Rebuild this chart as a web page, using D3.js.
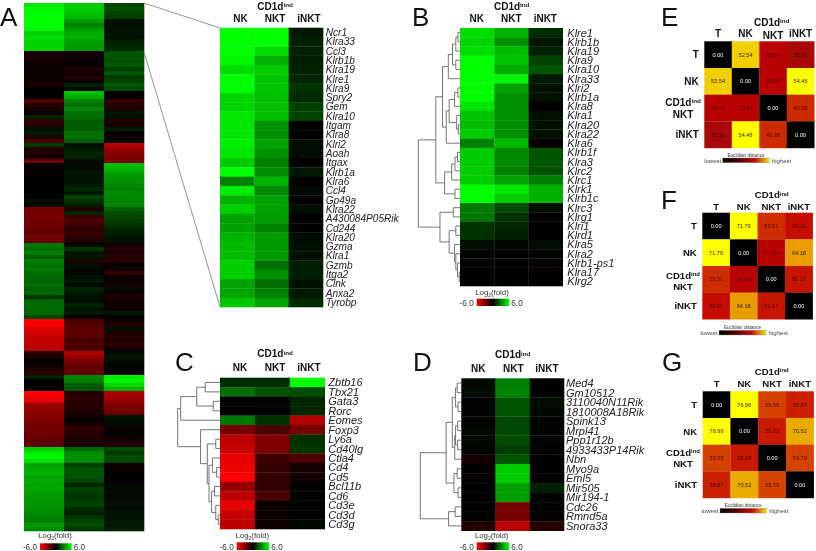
<!DOCTYPE html>
<html><head><meta charset="utf-8">
<script src="https://cdn.jsdelivr.net/npm/d3@7"></script>
<style>
html,body{margin:0;padding:0;background:#fff}
svg{display:block;font-family:"Liberation Sans",Arial,sans-serif;filter:blur(0.35px)}
</style></head><body><svg id="c" width="816" height="551"></svg>
<script>
// ---------- DATA ----------
const groups = ["NK","NKT","iNKT"];
// Panel A: overview, one value per cluster row
const overviewNK = [5.4,5.8,6,6,6,6,5.8,4.8,5.2,5,5,5,
 -.5,-.7,-.5,-.3,-.2,-.2,-.2,-.4,-.6,-.1, 0,-.1,
 -1.8,-1,-.5,-.3,.8,-1.2,-.9,.4,.6,-.7,-1.6, 1.4,-.8,-.8,-.5,-2.6,
 0,-.2,-.1,-.1,0,0,0,.1,.1,.3,.1, -2.8,-2.7,-2.8,-2.6,-2.7,-2.5,-2.3,-2.6,-2.4,
 2.8,2.6,3,2.2,3,2.6,2.8,2.6,2.5,2.3,2.6,2.3,2.5,1.3,2.4,2.6,2.5,2.4,1.6,
 -6,-5.8,-5.2,-5,-4.6,-4.6,-4.4,-4.2, -1,-.6,0,-.2,-.7,-1, .8,-.1,.1,0, -6,-5.6,-5.2,
 -3.6,-3.4,-3.2,-3.2,-2.9,-2.7,-2.7,-2.6,-2.4,-2.3,-2.3, 4.8,5.6,5.8,5.2,
 3.8,4,4.2,3.8,4,3.8,4,3.7,3.7,3.5,3.5,3.4,3.3,3.1,3,3.6,3.2];
const overviewNKT = [4.8,4.8,4.6,4.4,3.6,3,3.6,4,4.2,3.8,3.6,3.6,
 -.3,-.4,-.2,-.2,-.8,-.3,-.9,-.3,.8,.3, 4.6,4,
 3,2.6,3.2,2.6,2.6,2.2,2.2,2.2,2.6,2.6,2.2, .4,.6,.9,.8,.3,
 .2,.3,.5,.4,.5,.6,1,.5,1.6,1.2,.8, -.8,.9,-1.4,-1.8,-1.4,-1.1,-1.3,-1,-.7,
 .2,1.2,.5,.6,-.6,.4,.2,.2,.3,.6,.2,.9,.6,.4,.3,.9,.5,.6,-.4,
 -1.8,-2,-2.2,-2.2,-2,-1.6,-1.9,-1.8, -4,-3.4,-3,-2.4,-2.2,-2.4, 3.2,3,2.2,2, -.8,-1,-.9,
 -1,-.8,-.7,-.3,-.2,-.6,-1.1,-.9,-.8,-.7,-.5, 2.4,3.2,3.4,3.2,
 1.4,2,2,1.9,1.6,.9,1.6,1.4,1.3,1.4,1.5,1,.8,1.2,1.6,1.8,1.3];
const overviewINKT = [1.6,1.8,1.6,1.4,.4,.3,.4,.5,.4,.7,.9,1,
 2,2,1.8,2.1,1.5,2,1.4,1.6,2,1.7, 0,-.1,
 -1.2,-.9,-.6,.5,.3,-.8,-.5,.7,-.2,-.4,-.3, -4.2,-3.6,-3.2,-3,-2.8,
 4.4,4.2,3.8,3.5,3.4,3.2,3,3.2,3.2,3,3.1, 2.3,1.8,1.6,1.4,1.2,.9,.7,.5,.4,
 -.5,-.8,-.6,-1,-.9,-.2,-.4,-1.1,-.3,-.3,-.5,.3,-.4,-.7,-.4,-.5,-.3,.6,-.1,
 -.4,-.7,.4,-.6,-.9,-.7,-1,-.5, .3,.5,.3,.1,.2,-.2, 5.6,5.8,5,4.2, -4,-3.8,-3.4,
 -3,-2.8,-2.4,.5,.3,.2,-.3,.1,-.2,-.6,-.7, 1.8,1.4,1.8,1.6,
 -.3,-.2,.1,0,0,.2,.2,.3,.2,.3,.4,.3,.5,.4,.6,.5,.7];

// Panel A inset
const insetGenes = ["Ncr1","Klra33","Ccl3","Klrb1b","Klra19","Klre1","Klra9","Spry2","Gem","Klra10","Itgam","Klra8","Klri2","Aoah","Itgax","Klrb1a","Klra6","Ccl4","Gp49a","Klra22","A430084P05Rik","Cd244","Klra20","Gzma","Klra1","Gzmb","Itga2","Clnk","Anxa2","Tyrobp"];
const insetNK = [6,6,6,5.8,5.2,6,6,5,5,5.4,5.4,5.4,5.6,5.4,4.8,6,3,5.6,4.2,4.9,3.8,3.8,4.2,4.4,4.4,4.9,4.9,3.8,3.9,4.7];
const insetNKT = [6,6,5.2,4.2,4.8,4.6,4.6,4.5,4.5,4.5,3.4,3.4,3.8,3.4,3,3.3,4.2,3.2,3.8,3.8,3.7,3.1,3.7,3.6,3.7,2.6,3.4,2.6,3,3.8];
const insetINKT = [.6,.8,.8,.7,.8,.9,1.2,1,1.5,1.6,0,0,.3,.3,-.1,.6,-.1,.2,0,.3,0,0,.3,.4,.4,.7,.7,.4,.6,1];

// Panel B
const klrGenes = ["Klre1","Klrb1b","Klra19","Klra9","Klra10","Klra33","Klri2","Klrb1a","Klra8","Klra1","Klra20","Klra22","Klra6","Klrb1f","Klra3","Klrc2","Klrc1","Klrk1","Klrb1c","Klrc3","Klrg1","Klri1","Klrd1","Klra5","Klra2","Klrb1-ps1","Klra17","Klrg2"];
const klrNK = [5.2,5,5.2,6,6,6,6,6,5.4,4.6,4.4,4.8,3,4.8,4.8,4.8,4.8,6,6,2.8,2.8,1.2,1.2,.3,.1,.1,-.1,-.1];
const klrNKT = [4.2,3.4,4.4,4.6,4,5.8,3.8,3.4,3.4,3.4,3.4,3.4,4.4,3.2,3.2,3.1,3.8,5.4,4.8,1.8,1.2,.9,.7,.2,0,0,0,0];
const klrINKT = [1,.5,.8,1.6,2,.6,.4,.4,0,.4,.4,.4,-.1,2,2,1.9,3,4.2,4.2,.3,0,0,0,.3,.1,-.1,-.1,-.1];
const klrTree = [1,[.58,[.42,[.28,[.18,[.1,[.05,0,1],2],[.1,3,4]],5],[.33,[.26,[.13,[.05,6,7],8],[.08,9,[.04,10,11]]],12]],[.37,[.2,[.12,[.06,13,14],15],16],[.12,17,18]]],[.48,[.16,19,20],[.26,[.1,21,22],[.13,23,[.1,24,[.06,25,[.02,26,27]]]]]]];

// Panel C
const lineageGenes = ["Zbtb16","Tbx21","Gata3","Rorc","Eomes","Foxp3","Ly6a","Cd40lg","Ctla4","Cd4","Cd5","Bcl11b","Cd6","Cd3e","Cd3d","Cd3g"];
const lineageNK = [1,2.6,0,0,2.8,-2.8,-4.4,-4.6,-5.4,-5.6,-6,-3.5,-4.4,-5.4,-4.6,-4.5];
const lineageNKT = [1,1.9,.1,0,1.2,-1.8,-3,-3,-1.4,-1.2,-1.2,-1.2,-1.8,-.3,-.3,-.3];
const lineageINKT = [6,1.8,.9,.9,-4.2,-2.8,1.1,1.3,-1.8,-.5,-.5,0,.1,.1,0,.2];
const lineageTree = [1,[.93,[.55,[.35,0,1],[.16,2,3]],4],[.46,5,[.3,[.1,6,7],[.26,[.18,8,[.08,9,10]],[.2,[.13,11,12],[.1,13,[.04,14,15]]]]]]];

// Panel D
const nktGenes = ["Med4","Gm10512","3110040N11Rik","1810008A18Rik","Spink13","Mrpl41","Ppp1r12b","4933433P14Rik","Nbn","Myo9a","Eml5","Mir505","Mir194-1","Cdc26","Rmnd5a","Snora33"];
const nktNK = [.2,.3,.1,.1,.1,.2,.2,.1,-.5,0,-.1,0,0,0,.1,-.7];
const nktNKT = [3,3.1,2,2,1.7,1.7,1.8,1.4,2,4.8,4.8,3.7,3.7,-2.8,-2.8,-4.4];
const nktINKT = [0,0,.3,.2,.1,.1,.1,0,0,0,0,.7,.1,.1,-.1,-.8];
const nktTree = [1,[.37,[.22,[.14,[.1,0,1],[.08,2,3]],[.16,[.14,[.09,4,5],[.09,6,7]],8]],[.18,[.1,9,10],[.08,11,12]]],[.31,[.15,13,14],15]];

// Panels E, F, G: distances
const cellNames = ["T","NK","NKT","iNKT"];
const distE = [[0,52.54,35.64,32.30],[52.54,0,35.95,54.46],[35.64,35.95,0,40.38],[32.30,54.46,40.38,0]];
const distF = [[0,71.79,53.51,50.11],[71.79,0,47.04,64.18],[53.51,47.04,0,51.17],[50.11,64.18,51.17,0]];
const distG = [[0,76.96,59.55,55.87],[76.96,0,55.23,70.52],[59.55,55.23,0,59.79],[55.87,70.52,59.79,0]];

// ---------- DRAW ----------
const svg = d3.select("#c");
const logColor = d3.scaleLinear().domain([-6,0,6]).range(["#ff0000","#000000","#00ff00"]).clamp(true);
const hotStops = [0,.3,.59,.68,.75,.9,.96,1];
const hotColor = d3.scaleLinear().domain(hotStops).range(["#000000","#400000","#a80808","#c00000","#d03000","#e8a000","#f0c800","#ffff00"]);
let gid = 0;
function gradient(stops){
  const id = "g"+(gid++);
  const g = svg.append("defs").append("linearGradient").attr("id",id);
  g.selectAll("stop").data(stops).join("stop")
    .attr("offset",d=>d[0]).attr("stop-color",d=>d[1]);
  return "url(#"+id+")";
}
function letter(t,x,y){
  svg.append("text").text(t).attr("x",x).attr("y",y).attr("font-size",26).attr("fill","#111");
}
function cd1d(x,y,size){
  const t = svg.append("text").attr("x",x).attr("y",y).attr("text-anchor","middle")
    .attr("font-size",size).attr("font-weight","bold").attr("fill","#111");
  t.append("tspan").text("CD1d");
  t.append("tspan").text("ind").attr("font-size",size*.62).attr("dy",-size*.28);
}
function heat(o){
  const x = d3.scaleBand().domain(groups).range(o.xr);
  const y = d3.scaleBand().domain(d3.range(o.cols[0].length)).range(o.yr);
  const rows = o.cols.flatMap((c,j)=>c.map((v,i)=>({g:groups[j],i,v})));
  svg.append("g").style("filter","blur(.4px)").selectAll("rect").data(rows).join("rect")
    .attr("x",d=>x(d.g)).attr("y",d=>y(d.i))
    .attr("width",x.bandwidth()+.3).attr("height",y.bandwidth()+.3)
    .attr("fill",d=>logColor(d.v));
  if(o.genes){
    svg.append("g").selectAll("text").data(o.genes).join("text")
      .text(d=>d).attr("x",o.labelX).attr("y",(d,i)=>y(i)+y.bandwidth()/2)
      .attr("dy",".36em").attr("font-size",o.labelSize).attr("font-style","italic").attr("fill","#222");
  }
  if(o.tree){
    const hx = d3.scaleLinear().domain([0,1]).range([o.xr[0],o.rootX]);
    const segs = [];
    (function walk(n){
      if(typeof n==="number") return {h:0,cy:y(n)+y.bandwidth()/2};
      const a = walk(n[1]), b = walk(n[2]);
      segs.push([hx(n[0]),a.cy,hx(n[0]),b.cy],[hx(n[0]),a.cy,hx(a.h),a.cy],[hx(n[0]),b.cy,hx(b.h),b.cy]);
      return {h:n[0],cy:(a.cy+b.cy)/2};
    })(o.tree);
    svg.append("g").selectAll("line").data(segs).join("line")
      .attr("x1",d=>d[0]).attr("y1",d=>d[1]).attr("x2",d=>d[2]).attr("y2",d=>d[3])
      .attr("stroke","#666").attr("stroke-width",.9);
  }
  if(o.head){
    svg.append("g").selectAll("text").data(groups).join("text").text(d=>d)
      .attr("x",(d,i)=>o.head.x[i]).attr("y",o.head.y).attr("text-anchor","middle")
      .attr("font-size",10).attr("font-weight","bold").attr("fill","#111");
    cd1d(o.head.cx,o.head.cy,10);
  }
}
const logGrad = gradient([[0,"#ff0000"],[.5,"#000000"],[1,"#00ff00"]]);
function logLegend(o){
  const t = svg.append("text").attr("x",o.cx).attr("y",o.ty).attr("text-anchor","middle").attr("font-size",7.8).attr("fill","#333");
  t.append("tspan").text("Log");
  t.append("tspan").text("2").attr("font-size",5).attr("dy",1.5);
  t.append("tspan").text("(fold)").attr("dy",-1.5);
  svg.append("text").text("-6.0").attr("x",o.bx[0]-3).attr("y",o.by[1]-.5).attr("text-anchor","end").attr("font-size",8.2).attr("fill","#333");
  svg.append("text").text("6.0").attr("x",o.bx[1]+2).attr("y",o.by[1]-.5).attr("font-size",8.2).attr("fill","#333");
  svg.append("rect").attr("x",o.bx[0]).attr("y",o.by[0]).attr("width",o.bx[1]-o.bx[0]).attr("height",o.by[1]-o.by[0]).attr("fill",logGrad);
}
const hotGrad = gradient(hotStops.map(s=>[s,hotColor(s)]));
function matrix(o){
  const x = d3.scaleBand().domain(d3.range(4)).range(o.xr);
  const y = d3.scaleBand().domain(d3.range(4)).range(o.yr);
  const max = d3.max(o.m.flat());
  const cells = o.m.flatMap((r,i)=>r.map((v,j)=>({i,j,v})));
  const g = svg.append("g");
  g.selectAll("rect").data(cells).join("rect")
    .attr("x",d=>x(d.j)).attr("y",d=>y(d.i)).attr("width",x.bandwidth()+.2).attr("height",y.bandwidth()+.2)
    .attr("fill",d=>hotColor(d.v/max));
  g.selectAll("text").data(cells).join("text").text(d=>d.v.toFixed(2))
    .attr("x",d=>x(d.j)+x.bandwidth()/2).attr("y",d=>y(d.i)+y.bandwidth()/2).attr("dy",".36em")
    .attr("text-anchor","middle").attr("font-size",5.6)
    .attr("fill",d=>d.v===0?"#fff":(d.v/max>.85?"#332200":"#500000"));
  svg.append("g").selectAll("text").data(cellNames).join("text").text(d=>d)
    .attr("x",(d,i)=>x(i)+x.bandwidth()/2).attr("y",(d,i)=>o.headY+(i===2?o.nktShift:0))
    .attr("text-anchor","middle").attr("font-size",o.fs).attr("font-weight","bold").attr("fill","#111");
  cd1d(o.cdX,o.cdY,o.fs);
  const rowX = o.xr[0]-5.5;
  svg.append("g").selectAll("text").data([0,1,3]).join("text").text(i=>cellNames[i])
    .attr("x",rowX).attr("y",i=>y(i)+y.bandwidth()/2).attr("dy",".36em")
    .attr("text-anchor","end").attr("font-size",o.fs).attr("font-weight","bold").attr("fill","#111");
  cd1d(o.rowCx,o.rowY[0],o.fs);
  svg.append("text").text("NKT").attr("x",o.rowCx).attr("y",o.rowY[1]).attr("text-anchor","middle")
    .attr("font-size",o.fs).attr("font-weight","bold").attr("fill","#111");
  svg.append("rect").attr("x",o.lx[0]).attr("y",o.ly[0]).attr("width",o.lx[1]-o.lx[0]).attr("height",o.ly[1]-o.ly[0])
    .attr("fill",hotGrad).attr("stroke","#888").attr("stroke-width",.4);
  svg.append("text").text("Euclidian distance").attr("x",(o.lx[0]+o.lx[1])/2).attr("y",o.ly[0]-1.5)
    .attr("text-anchor","middle").attr("font-size",4.6).attr("fill","#333");
  svg.append("text").text("lowest").attr("x",o.lx[0]-1.5).attr("y",o.ly[1]).attr("text-anchor","end").attr("font-size",6).attr("fill","#444");
  svg.append("text").text("highest").attr("x",o.lx[1]+2.5).attr("y",o.ly[1]).attr("font-size",6).attr("fill","#444");
}

// Panel A
letter("A",0,26);
heat({cols:[overviewNK,overviewNKT,overviewINKT],xr:[24,144],yr:[3,531]});
logLegend({cx:55,ty:538,bx:[40,71.7],by:[543.3,550]});
// connector lines between overview and inset
const connectors = [[144,3,220,28],[144,52,220,307]];
svg.append("g").selectAll("line").data(connectors).join("line")
  .attr("x1",d=>d[0]).attr("y1",d=>d[1]).attr("x2",d=>d[2]).attr("y2",d=>d[3])
  .attr("stroke","#888").attr("stroke-width",.9);
heat({cols:[insetNK,insetNKT,insetINKT],genes:insetGenes,xr:[220,323],yr:[27.7,307],labelX:325.7,labelSize:10.1,
  head:{x:[240.5,275,309],y:21.5,cx:275,cy:9.5}});

// Panel B
letter("B",412,26);
heat({cols:[klrNK,klrNKT,klrINKT],genes:klrGenes,xr:[460,562.7],yr:[28,286],labelX:567.3,labelSize:11,
  tree:klrTree,rootX:418.3,head:{x:[476.7,511.3,545.3],y:21.7,cx:511.7,cy:9.5}});
logLegend({cx:492,ty:295,bx:[476.7,509.3],by:[298.7,306]});

// Panel C
letter("C",175,371);
heat({cols:[lineageNK,lineageNKT,lineageINKT],genes:lineageGenes,xr:[220,324.7],yr:[377.7,529],labelX:328.3,labelSize:11,
  tree:lineageTree,rootX:177.7,head:{x:[240,275,309],y:371,cx:275,cy:357.3}});
logLegend({cx:252.3,ty:538,bx:[236.7,269.3],by:[542.3,550]});

// Panel D
letter("D",413,371);
heat({cols:[nktNK,nktNKT,nktINKT],genes:nktGenes,xr:[461.3,564],yr:[378.3,530.7],labelX:566,labelSize:11,
  tree:nktTree,rootX:420.3,head:{x:[478.3,513.3,547],y:371.7,cx:512.7,cy:358.3}});
logLegend({cx:491.7,ty:538.3,bx:[476.7,509.3],by:[542.3,550]});

// Panels E, F, G
letter("E",661,26);
matrix({m:distE,xr:[704.3,814.3],yr:[41.3,148],headY:37,nktShift:1.5,fs:10,cdX:771.7,cdY:26,rowCx:683,rowY:[106,118],lx:[722.7,769.3],ly:[158,162.7]});
letter("F",661,209);
matrix({m:distF,xr:[702.3,812.7],yr:[212.7,319.3],headY:210,nktShift:0,fs:9.6,cdX:771.7,cdY:198.3,rowCx:683,rowY:[279,290.3],lx:[719,766],ly:[330.3,335]});
letter("G",662,371);
matrix({m:distG,xr:[702.7,813.7],yr:[391.3,498],headY:386.7,nktShift:0,fs:9.6,cdX:771.7,cdY:375,rowCx:683,rowY:[456,467],lx:[720,766.7],ly:[508.3,513]});
</script></body></html>
